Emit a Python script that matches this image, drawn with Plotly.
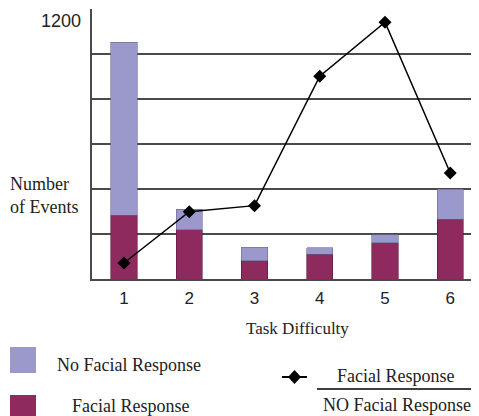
import plotly.graph_objects as go

categories = [1, 2, 3, 4, 5, 6]
facial = [284, 218, 81, 110, 161, 265]
no_facial = [768, 93, 60, 28, 35, 134]
ratio_line = [71, 299, 326, 901, 1141, 471]
tick_labels = ["1", "2", "3", "4", "5", "6"]

C_NOFACIAL = "#9b99cc"
C_FACIAL = "#8e2a5e"
GRID = "#4a4a4a"

OFF = 8  # page body margin
W, H = 471, 408
L, R, T, B = 84, 0, 1, 137
PW, PH = W - L - R, H - T - B

fig = go.Figure()
fig.add_trace(go.Bar(x=categories, y=facial, name="Facial Response",
                     marker=dict(color=C_FACIAL, line=dict(color="#5a1a3a", width=0.6)),
                     width=0.4))
fig.add_trace(go.Bar(x=categories, y=no_facial, name="No Facial Response",
                     marker=dict(color=C_NOFACIAL, line=dict(color="#6a6890", width=0.6)),
                     width=0.4))
fig.add_trace(go.Scatter(x=categories, y=ratio_line, mode="lines+markers",
                         line=dict(color="black", width=1.5),
                         marker=dict(symbol="diamond", size=10, color="black"),
                         name="Facial Response / NO Facial Response"))

fig.update_layout(
    width=W, height=H, barmode="stack", showlegend=False,
    margin=dict(l=L, r=R, t=T, b=B),
    paper_bgcolor="white", plot_bgcolor="white",
    font=dict(family="Liberation Sans, Arial", size=17, color="#222"),
)
fig.update_xaxes(range=[0.51, 6.44], tickvals=categories, ticktext=tick_labels,
                 showgrid=False, showline=True, linecolor=GRID, linewidth=2,
                 ticks="outside", ticklen=3, tickcolor="rgba(0,0,0,0)",
                 tickfont=dict(family="Liberation Sans, Arial", size=17, color="#222"),
                 zeroline=False)
fig.update_yaxes(range=[0, 1200], tickvals=[0, 200, 400, 600, 800, 1000, 1200],
                 ticktext=[""] * 7, showgrid=True, gridcolor=GRID, gridwidth=1.6,
                 showline=True, linecolor=GRID, linewidth=2, zeroline=False, ticks="")

px = lambda x: (x - OFF - L) / PW
py = lambda y: (H - B - (y - OFF)) / PH

anns = []
anns.append(dict(x=0, y=1200, xref="paper", yref="y", text="1200",
                 xanchor="right", yanchor="middle", xshift=-9, yshift=-12, showarrow=False,
                 font=dict(family="Liberation Sans, Arial", size=18, color="#222")))
serif = dict(family="Liberation Serif, Times New Roman", size=18, color="#222")
anns.append(dict(x=px(8), y=py(195), xref="paper", yref="paper", text="Number<br>of Events",
                 xanchor="left", yanchor="middle", align="left", showarrow=False, font=serif))
anns.append(dict(x=px(297), y=py(328), xref="paper", yref="paper", text="Task Difficulty",
                 xanchor="center", yanchor="middle", showarrow=False,
                 font=dict(family="Liberation Serif, Times New Roman", size=17, color="#222")))
anns.append(dict(x=px(55), y=py(365), xref="paper", yref="paper", text="No Facial Response",
                 xanchor="left", yanchor="middle", showarrow=False, font=serif))
anns.append(dict(x=px(70), y=py(406), xref="paper", yref="paper", text="Facial Response",
                 xanchor="left", yanchor="middle", showarrow=False, font=serif))
anns.append(dict(x=px(395), y=py(376), xref="paper", yref="paper", text="Facial Response",
                 xanchor="center", yanchor="middle", showarrow=False, font=serif))
anns.append(dict(x=px(397), y=py(405), xref="paper", yref="paper", text="NO Facial Response",
                 xanchor="center", yanchor="middle", showarrow=False, font=serif))
fig.update_layout(annotations=anns)

LY = 377
shapes = []
shapes.append(dict(type="rect", xref="paper", yref="paper", x0=px(10), x1=px(36),
                   y0=py(373), y1=py(347), fillcolor=C_NOFACIAL, line=dict(width=0)))
shapes.append(dict(type="rect", xref="paper", yref="paper", x0=px(10), x1=px(36),
                   y0=py(422), y1=py(395), fillcolor=C_FACIAL, line=dict(width=0)))
shapes.append(dict(type="line", xref="paper", yref="paper", x0=px(282), x1=px(307),
                   y0=py(LY), y1=py(LY), line=dict(color="black", width=2)))
shapes.append(dict(type="path", xref="paper", yref="paper",
                   path=f"M {px(288)} {py(LY)} L {px(294.5)} {py(LY-7)} L {px(301)} {py(LY)} L {px(294.5)} {py(LY+7)} Z",
                   fillcolor="black", line=dict(color="black", width=0)))
shapes.append(dict(type="line", xref="paper", yref="paper", x0=px(317), x1=px(479),
                   y0=py(389), y1=py(389), line=dict(color="black", width=1.5)))
fig.update_layout(shapes=shapes)

fig.write_html("out.html")
